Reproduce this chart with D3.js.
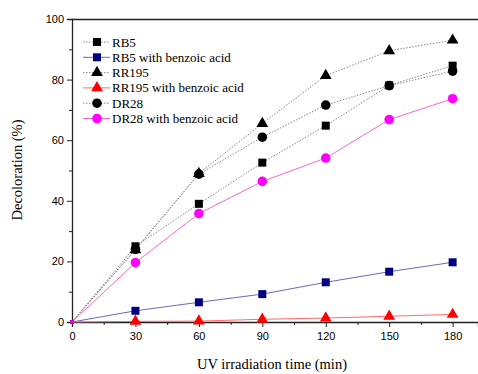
<!DOCTYPE html>
<html>
<head>
<meta charset="utf-8">
<script src="https://cdn.jsdelivr.net/npm/d3@7"></script>
<style>
body { margin: 0; background: #fff; }
.serif { font-family: "Liberation Serif", "Times New Roman", serif; }
</style>
</head>
<body>
<script>
var times = [0, 30, 60, 90, 120, 150, 180];
var rb5 = [0, 25, 39, 52.6, 64.8, 78.1, 84.6];
var rb5Benzoic = [0, 3.7, 6.5, 9.2, 13.1, 16.6, 19.7];
var rr195 = [0, 23.8, 49, 65.5, 81.3, 89.5, 93];
var rr195Benzoic = [0, 0.2, 0.3, 0.9, 1.3, 1.9, 2.5];
var dr28 = [0, 24, 48.8, 61, 71.6, 78, 82.8];
var dr28Benzoic = [0, 19.6, 35.8, 46.4, 54.1, 66.8, 73.7];
var xTicks = [0, 30, 60, 90, 120, 150, 180];
var yTicks = [0, 20, 40, 60, 80, 100];

var series = [
  {name: "RB5", values: rb5, marker: "square", fill: "#000", line: "#888", dash: "1.5,1.5"},
  {name: "RB5 with benzoic acid", values: rb5Benzoic, marker: "square", fill: "#000080", line: "#6b6bb8", dash: null},
  {name: "RR195", values: rr195, marker: "triangle", fill: "#000", line: "#888", dash: "1.5,1.5"},
  {name: "RR195 with benzoic acid", values: rr195Benzoic, marker: "triangle", fill: "#ff0000", line: "#ff6a6a", dash: null},
  {name: "DR28", values: dr28, marker: "circle", fill: "#000", line: "#888", dash: "1.5,1.5"},
  {name: "DR28 with benzoic acid", values: dr28Benzoic, marker: "circle", fill: "#ff00ff", line: "#ff66cc", dash: null}
];

var svg = d3.select("body").append("svg").attr("width", 478).attr("height", 374);

var x = d3.scaleLinear().domain([0, 192]).range([72, 478]);
var y = d3.scaleLinear().domain([0, 100]).range([322, 19]);

var symbols = {
  square: d3.symbol().type(d3.symbolSquare).size(64),
  triangle: d3.symbol().type(d3.symbolTriangle).size(60),
  circle: d3.symbol().type(d3.symbolCircle).size(72)
};
// the points at the origin only show as a tiny dot
var originMark = d3.symbol().type(d3.symbolSquare).size(12);

// frame
svg.append("line").attr("x1", 72).attr("x2", 478).attr("y1", 19.5).attr("y2", 19.5)
  .attr("stroke", "#222").attr("stroke-width", 1.3);

svg.append("g").attr("transform", "translate(0,322)")
  .call(d3.axisBottom(x).tickValues(xTicks).tickSize(5).tickPadding(5).tickFormat(d3.format("d")));
svg.append("g").attr("transform", "translate(0,322)")
  .call(d3.axisBottom(x).tickValues(d3.range(15, 192, 30)).tickSize(3).tickFormat(""))
  .select(".domain").remove();

svg.append("g").attr("transform", "translate(72,0)")
  .call(d3.axisLeft(y).tickValues(yTicks).tickSize(5).tickPadding(3));
svg.append("g").attr("transform", "translate(72,0)")
  .call(d3.axisLeft(y).tickValues(d3.range(10, 100, 20)).tickSize(3).tickFormat(""))
  .select(".domain").remove();

svg.selectAll(".domain").attr("stroke", "#222").attr("stroke-width", 1.3);
svg.selectAll(".tick line").attr("stroke", "#222");
svg.selectAll(".tick text").style("font-family", "'Liberation Sans', Arial, sans-serif")
  .style("font-size", "11px").attr("fill", "#000");

var line = d3.line()
  .x(function(d, i) { return x(times[i]); })
  .y(function(d) { return y(d); });

series.forEach(function(s) {
  svg.append("path")
    .attr("fill", "none")
    .attr("stroke", s.line)
    .attr("stroke-width", 1)
    .attr("stroke-dasharray", s.dash)
    .attr("d", line(s.values));
});

series.forEach(function(s) {
  svg.selectAll("path.m-" + s.name.replace(/\s/g, ""))
    .data(s.values)
    .enter().append("path")
      .attr("transform", function(d, i) { return "translate(" + x(times[i]) + "," + y(d) + ")"; })
      .attr("d", function(d, i) { return i == 0 ? originMark() : symbols[s.marker](); })
      .attr("fill", s.fill);
});

// legend
var legend = svg.append("g");
series.forEach(function(s, i) {
  var ly = 42 + i * 15.3;
  legend.append("line").attr("x1", 83).attr("x2", 110).attr("y1", ly).attr("y2", ly)
    .attr("stroke", s.line).attr("stroke-width", 1).attr("stroke-dasharray", s.dash);
  legend.append("path").attr("transform", "translate(97," + ly + ")")
    .attr("d", symbols[s.marker]).attr("fill", s.fill);
  legend.append("text").attr("class", "serif").attr("x", 112).attr("y", ly + 4.5)
    .style("font-size", "13px").text(s.name);
});

svg.append("text").attr("class", "serif").attr("x", 272).attr("y", 369).attr("text-anchor", "middle")
  .style("font-size", "14.5px")
  .text("UV irradiation time (min)");

svg.append("text").attr("class", "serif").attr("transform", "translate(22,170) rotate(-90)")
  .attr("text-anchor", "middle").style("font-size", "14.5px")
  .text("Decoloration (%)");
</script>
</body>
</html>
